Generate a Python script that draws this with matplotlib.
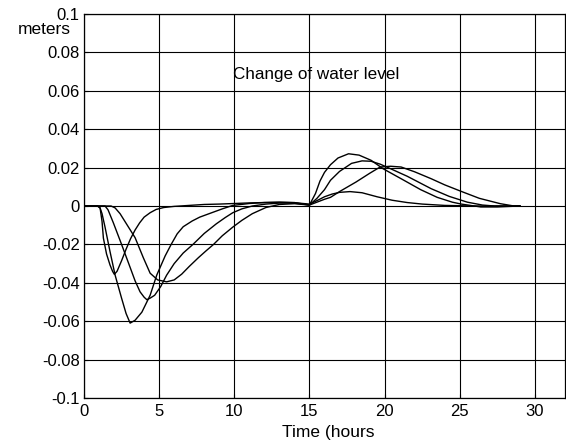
import matplotlib
matplotlib.use("Agg")
import matplotlib.pyplot as plt

plt.rcParams['font.family'] = ['Liberation Sans', 'DejaVu Sans']

# curve 1: earliest, shallow dip
t_a = [0, 0.9, 1.07, 1.2, 1.29, 1.5, 1.73, 1.9, 2.02, 2.2, 2.5, 2.8, 3.1, 3.4,
       3.7, 4.0, 4.4, 4.8, 5.3, 6, 7, 8, 9, 10, 11, 12, 13, 14, 15, 15.5, 16,
       16.5, 17, 17.7, 18.5, 19.5, 20.5, 21.5, 22.5, 24, 26, 29]
y_a = [0, 0, -0.001, -0.008, -0.0167, -0.025, -0.0307, -0.034, -0.0356, -0.034,
       -0.0285, -0.0225, -0.017, -0.0125, -0.0088, -0.0058, -0.0035, -0.0018,
       -0.0008, -0.0002, 0.0003, 0.0008, 0.001, 0.0013, 0.0016, 0.0018, 0.0019,
       0.0017, 0.001, 0.0028, 0.0048, 0.0062, 0.0071, 0.0075, 0.0069, 0.0048,
       0.003, 0.0018, 0.001, 0.0003, 0, 0]

# curve 2: deepest dip
t_b = [0, 0.9, 1.07, 1.2, 1.4, 1.73, 2.07, 2.5, 2.8, 3.07, 3.4, 3.85, 4.4, 4.84,
       5.4, 5.8, 6.2, 6.6, 7.2, 7.7, 8.5, 9.2, 9.9, 11, 12, 13, 14, 15, 15.4,
       15.7, 16.0, 16.4, 16.9, 17.6, 18.3, 19.1, 19.9, 20.5, 21.1, 22.4, 23.5,
       24.5, 25.1, 26.4, 27.5, 29]
y_b = [0, 0, -0.001, -0.004, -0.011, -0.0237, -0.036, -0.048, -0.056, -0.061,
       -0.0595, -0.0553, -0.0465, -0.036, -0.026, -0.020, -0.0145, -0.0108,
       -0.0078, -0.0058, -0.0035, -0.0015, 0.0003, 0.0013, 0.0018, 0.002,
       0.0018, 0.0005, 0.0065, 0.013, 0.0175, 0.0215, 0.025, 0.0272, 0.0265,
       0.0238, 0.0194, 0.0168, 0.0142, 0.0085, 0.0045, 0.002, 0.001, -0.0005,
       -0.0005, 0]

# curve 3
t_c = [0, 1.4, 1.6, 1.95, 2.5, 3.07, 3.4, 3.73, 4.0, 4.18, 4.4, 4.7, 5.1, 5.5,
       6.0, 6.6, 7.25, 8.0, 8.8, 9.4, 9.9, 10.5, 11.2, 12.1, 13, 14, 15, 15.5,
       16, 16.4, 17, 17.8, 18.5, 19.1, 19.7, 20.4, 21.5, 23.1, 24.3, 25.5,
       26.5, 27.3, 29]
y_c = [0, 0, -0.002, -0.0087, -0.020, -0.032, -0.039, -0.0447, -0.0475, -0.0488,
       -0.048, -0.0465, -0.042, -0.036, -0.030, -0.0245, -0.020, -0.0143,
       -0.0093, -0.006, -0.0035, -0.0015, 0, 0.001, 0.0015, 0.0015, 0.0005,
       0.004, 0.0085, 0.0134, 0.018, 0.0222, 0.0235, 0.0233, 0.0218, 0.0194,
       0.0155, 0.009, 0.005, 0.002, 0.0005, 0, 0]

# curve 4: latest dip
t_d = [0, 1.8, 2.07, 2.4, 2.8, 3.4, 3.95, 4.4, 4.9, 5.5, 6.0, 6.5, 7.0, 7.6, 8.1,
       8.62, 9.2, 9.9, 10.5, 11.2, 12.1, 13, 14, 15, 15.5, 16, 16.4, 17, 18.1,
       19, 19.7, 20.4, 21.1, 22, 23.1, 24, 25.1, 26.3, 27.7, 28.6, 29]
y_d = [0, 0, -0.001, -0.004, -0.009, -0.0165, -0.027, -0.035, -0.0385, -0.0395,
       -0.0385, -0.0355, -0.0315, -0.027, -0.0235, -0.020, -0.0155, -0.011,
       -0.0075, -0.004, -0.0008, 0.0008, 0.0012, 0.0005, 0.002, 0.0035, 0.0045,
       0.0075, 0.0125, 0.017, 0.0203, 0.0207, 0.0203, 0.0178, 0.0142, 0.011,
       0.0076, 0.004, 0.0012, 0, 0]

x_ticks = [0, 5, 10, 15, 20, 25, 30]
y_ticks = [-0.1, -0.08, -0.06, -0.04, -0.02, 0, 0.02, 0.04, 0.06, 0.08, 0.1]
y_tick_labels = ["-0.1", "-0.08", "-0.06", "-0.04", "-0.02", "0",
                 "0.02", "0.04", "0.06", "0.08", "0.1"]


def main():
    fig = plt.figure(figsize=(5.66, 4.43), dpi=100)
    ax = fig.add_axes([0.1484, 0.1016, 0.8498, 0.8668])

    for t, y in [(t_a, y_a), (t_b, y_b), (t_c, y_c), (t_d, y_d)]:
        ax.plot(t, y, color="black", lw=1.0)

    ax.set_xlim(0, 32)
    ax.set_ylim(-0.1, 0.1)
    ax.set_xticks(x_ticks)
    ax.set_yticks(y_ticks)
    ax.set_yticklabels(y_tick_labels)
    ax.grid(True, color="black", lw=0.8)
    ax.tick_params(direction="in", length=3, labelsize=12, colors="black")
    ax.tick_params(axis="y", pad=3)
    ax.tick_params(axis="x", pad=4)
    for s in ax.spines.values():
        s.set_linewidth(0.9)

    ax.text(9.9, 0.0685, "Change of water level", fontsize=12.3,
            ha="left", va="center")
    fig.text(71 / 566, 1 - 30 / 443, "meters", fontsize=12.5,
             ha="right", va="center")
    fig.text(328 / 566, 1 - 432 / 443, "Time (hours", fontsize=12.5,
             ha="center", va="center")

    fig.savefig("out.png", dpi=100)


if __name__ == "__main__":
    main()
